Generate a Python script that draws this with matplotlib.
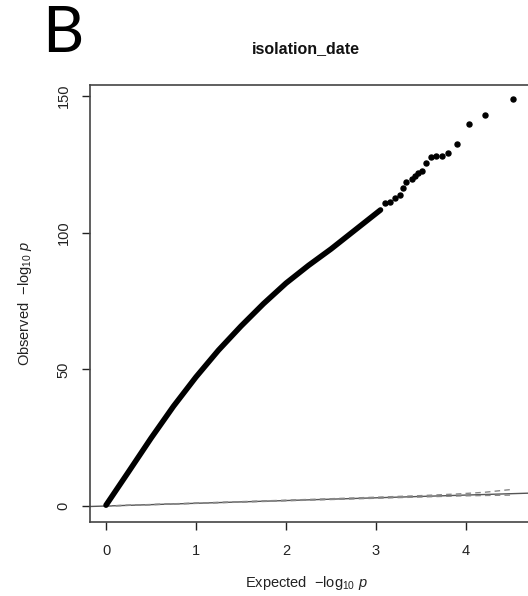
import matplotlib.pyplot as plt

plt.rcParams['font.family'] = ['Liberation Sans', 'DejaVu Sans']
plt.rcParams['mathtext.fontset'] = 'custom'
plt.rcParams['mathtext.rm'] = 'Liberation Sans'
plt.rcParams['mathtext.it'] = 'Liberation Sans:italic'

# Parte densa de la curva QQ (esperado vs observado, -log10 p)
esperado = [0.0, 0.25, 0.5, 0.75, 1.0, 1.25, 1.5, 1.75, 2.0, 2.25,
            2.5, 2.75, 3.0, 3.05]
observado = [0.3, 12.5, 24.8, 36.5, 47.2, 57.0, 65.8, 74.0, 81.5, 88.0,
             94.0, 100.5, 107.0, 108.3]

# Puntos sueltos de la cola superior
esperado_cola = [3.1, 3.156, 3.21, 3.27, 3.30, 3.33, 3.40, 3.43, 3.47, 3.51,
                 3.55, 3.61, 3.67, 3.73, 3.80, 3.90, 4.03, 4.21, 4.52]
observado_cola = [111.0, 111.3, 112.6, 113.8, 116.2, 118.7, 119.5, 120.7, 121.7, 122.7,
                  125.4, 127.6, 128.1, 128.1, 129.0, 132.3, 139.7, 142.9, 148.8]

# Banda de confianza alrededor de la diagonal
banda_x = [0.0, 0.5, 1.0, 1.5, 2.0, 2.5, 3.0, 3.5, 3.9, 4.2, 4.52]
banda_sup = [0.02, 0.55, 1.08, 1.6, 2.13, 2.67, 3.22, 3.8, 4.4, 5.0, 6.1]
banda_inf = [0.0, 0.47, 0.95, 1.42, 1.9, 2.37, 2.84, 3.3, 3.66, 3.85, 4.0]

diagonal = [-1, 6]

fig = plt.figure(figsize=(5.28, 5.96), dpi=100)
ax = fig.add_axes([90 / 528, 1 - 522 / 596, 443.5 / 528, 437 / 596])

ax.plot(diagonal, diagonal, color='#555555', linewidth=1.0, zorder=1)
ax.plot(banda_x, banda_sup, color='#888888', linewidth=1.0, linestyle=(0, (4, 3)), zorder=1)
ax.plot(banda_x, banda_inf, color='#888888', linewidth=1.0, linestyle=(0, (4, 3)), zorder=1)

ax.plot(esperado, observado, color='black', linewidth=4.0, solid_capstyle='round',
        solid_joinstyle='round', zorder=2)
ax.plot(esperado_cola, observado_cola, 'o', color='black', markersize=3.6, zorder=3)

ax.set_xlim(-0.178, 4.75)
ax.set_ylim(-5.85, 154.0)

ax.set_xticks([0, 1, 2, 3, 4])
ax.set_yticks([0, 50, 100, 150])
ax.set_yticklabels(['0', '50', '100', '150'], rotation=90, va='center')
ax.tick_params(direction='out', length=6, width=1.0, labelsize=10.5, colors='#222222')
ax.tick_params(axis='x', pad=10)
ax.tick_params(axis='y', pad=8)

for lado in ['left', 'bottom', 'top', 'right']:
    ax.spines[lado].set_color('#444444')
    ax.spines[lado].set_linewidth(1.2)

ax.set_xlabel(r'Expected  $-\log_{10}\,\mathit{p}$', fontsize=10.5, color='#222222', va='center')
ax.set_ylabel(r'Observed  $-\log_{10}\,\mathit{p}$', fontsize=10.5, color='#222222', va='center')
ax.xaxis.set_label_coords(0.489, -0.1396)
ax.yaxis.set_label_coords(-0.1466, 0.501)

fig.text(306 / 528, 1 - 49 / 596, 'isolation_date', fontsize=11.5, fontweight='bold',
         ha='center', va='center', color='#111111')
fig.text(42 / 528, 1 - 34 / 596, 'B', fontsize=46, family='Lato', ha='left', va='center')

fig.savefig('out.png', dpi=100)
